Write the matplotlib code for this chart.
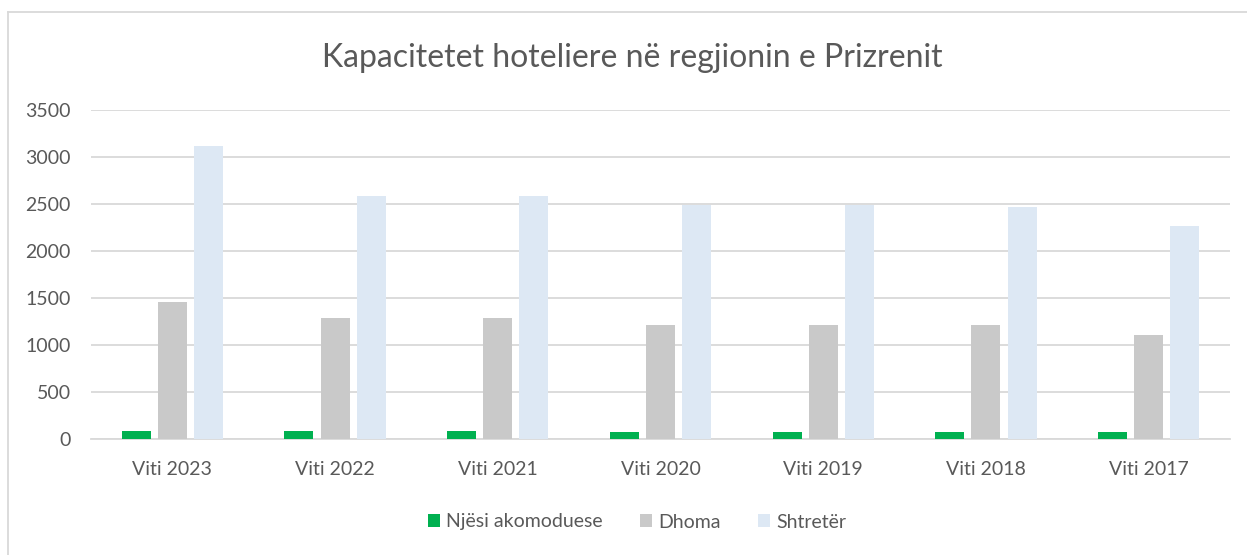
import matplotlib
matplotlib.use("Agg")
import matplotlib.pyplot as plt
from matplotlib.lines import Line2D
import numpy as np

categories = ["Viti 2023", "Viti 2022", "Viti 2021", "Viti 2020", "Viti 2019", "Viti 2018", "Viti 2017"]
njesi = [88, 88, 88, 74, 74, 74, 74]
dhoma = [1453, 1290, 1290, 1218, 1218, 1218, 1102]
shtreter = [3113, 2588, 2588, 2493, 2493, 2465, 2267]
series_names = ["Njësi akomoduese", "Dhoma", "Shtretër"]
colors = ["#00b050", "#c9c9c9", "#dde8f4"]
yticks = [0, 500, 1000, 1500, 2000, 2500, 3000, 3500]

plt.rcParams['font.family'] = ['Lato', 'DejaVu Sans']
txt = "#595959"

fig = plt.figure(figsize=(12.47, 5.55), dpi=100)
ax = fig.add_axes([91/1247, (555-439)/555, (1230-91)/1247, (439-110)/555])

x = np.arange(len(categories))
w = 0.178
off = 0.222
for i, (vals, name, c) in enumerate(zip([njesi, dhoma, shtreter], series_names, colors)):
    ax.bar(x + (i - 1) * off, vals, width=w, color=c, label=name, zorder=3)

ax.set_xlim(-0.5, len(categories) - 0.5)
ax.set_ylim(0, 3500)
ax.set_yticks(yticks)
ax.set_yticklabels([str(v) for v in yticks])
ax.set_xticks(x)
ax.set_xticklabels(categories)
ax.grid(axis='y', color='#d9d9d9', linewidth=1.3, zorder=0)
for s in ['top', 'right', 'left']:
    ax.spines[s].set_visible(False)
ax.spines['bottom'].set_color('#d9d9d9')
ax.spines['bottom'].set_linewidth(1.3)
ax.tick_params(axis='both', length=0, labelsize=14, colors=txt)
ax.tick_params(axis='y', pad=14.5)
ax.tick_params(axis='x', pad=16)

fig.text(632/1247, 1 - 58/555, "Kapacitetet hoteliere në regjionin e Prizrenit",
         ha='center', va='center', fontsize=23, color=txt)

leg = fig.legend(loc='center', bbox_to_anchor=(637/1247, 1 - 522/555), ncol=3,
                 frameon=False, fontsize=14, labelcolor=txt, handlelength=0.65,
                 handleheight=0.65, handletextpad=0.3, columnspacing=1.9)

fig.add_artist(Line2D([8/1247, 8/1247], [0, 1 - 12/555], transform=fig.transFigure,
                      color='#d9d9d9', linewidth=1.3))
fig.add_artist(Line2D([8/1247, 1], [1 - 12/555, 1 - 12/555], transform=fig.transFigure,
                      color='#d9d9d9', linewidth=1.3))

fig.savefig("out.png", dpi=100, facecolor='white')
